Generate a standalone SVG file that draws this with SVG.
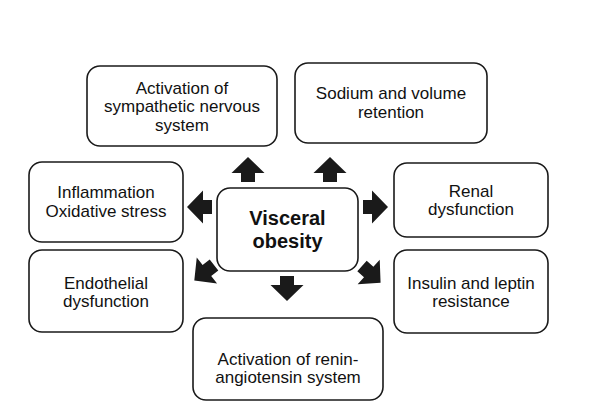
<svg xmlns="http://www.w3.org/2000/svg" width="595" height="413" viewBox="0 0 595 413">
<style>
.box{fill:#fff;stroke:#1a1a1a;stroke-width:1.6}
.t{font-family:"Liberation Sans",Arial,sans-serif;font-size:17px;fill:#111;text-anchor:middle}
.b{font-family:"Liberation Sans",Arial,sans-serif;font-size:20px;font-weight:bold;fill:#111;text-anchor:middle}
.arr{fill:#1a1a1a}
</style>
<defs>
<polygon id="a" points="0,-7 9,-7 9,-16.5 25,0 9,16.5 9,7 0,7"/>
</defs>
<rect width="595" height="413" fill="#fff"/>
<g id="sympathetic"><rect class="box" x="87" y="66" width="190" height="80" rx="13"/>
<text class="t" x="182" y="94">Activation of</text><text class="t" x="182" y="112">sympathetic nervous</text><text class="t" x="182" y="131">system</text></g>
<g id="sodium"><rect class="box" x="295" y="63" width="192" height="80" rx="13"/>
<text class="t" x="391" y="99">Sodium and volume</text><text class="t" x="391" y="118">retention</text></g>
<g id="inflammation"><rect class="box" x="29" y="162" width="154" height="80" rx="13"/>
<text class="t" x="106" y="198">Inflammation</text><text class="t" x="106" y="217">Oxidative stress</text></g>
<g id="endothelial"><rect class="box" x="29" y="250" width="154" height="82" rx="13"/>
<text class="t" x="106" y="289">Endothelial</text><text class="t" x="106" y="307">dysfunction</text></g>
<g id="renal"><rect class="box" x="394" y="163" width="154" height="74" rx="13"/>
<text class="t" x="471" y="197">Renal</text><text class="t" x="471" y="215">dysfunction</text></g>
<g id="insulin"><rect class="box" x="394" y="250" width="154" height="83" rx="13"/>
<text class="t" x="471" y="289">Insulin and leptin</text><text class="t" x="471" y="307">resistance</text></g>
<g id="renin"><rect class="box" x="193" y="318" width="190" height="82" rx="13"/>
<text class="t" x="288" y="365">Activation of renin-</text><text class="t" x="288" y="383">angiotensin system</text></g>
<g id="visceral"><rect class="box" x="217" y="188" width="141" height="83" rx="13"/>
<text class="b" x="287.5" y="225">Visceral</text><text class="b" x="287.5" y="248">obesity</text></g>
<g id="connectors" class="arr">
<use href="#a" transform="translate(248,182) rotate(-90)"/>
<use href="#a" transform="translate(330,182) rotate(-90)"/>
<use href="#a" transform="translate(212,207) rotate(180)"/>
<use href="#a" transform="translate(363,207)"/>
<use href="#a" transform="translate(287,276) rotate(90)"/>
<use href="#a" transform="translate(214,265) rotate(142)"/>
<use href="#a" transform="translate(362,266) rotate(42)"/>
</g>
</svg>
